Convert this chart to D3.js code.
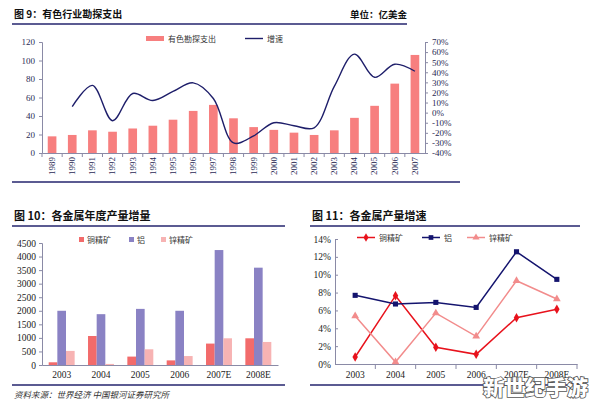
<!DOCTYPE html>
<html>
<head>
<meta charset="utf-8">
<script src="https://cdn.jsdelivr.net/npm/d3@7"></script>
<style>
  body { margin: 0; background: #fff; }
  svg text { font-family: "Liberation Serif", "Noto Sans CJK SC", serif; }
  .cjk { font-family: "Noto Sans CJK SC", sans-serif !important; }
</style>
</head>
<body>
<div class="chart"></div>
<script>
// fig 9 data
var years = ["1989","1990","1991","1992","1993","1994","1995","1996","1997","1998",
             "1999","2000","2001","2002","2003","2004","2005","2006","2007"];
var spend = [18, 19.5, 24.5, 23, 26.5, 29.5, 36, 45.5, 52, 37.5,
             28, 25, 22, 19.5, 24.5, 38, 51, 75, 106];
var growth = [null, 6, 27, -8, 19, 12, 21, 29.5, 14, -30,
              -23, -10, -13, -15, 26, 58, 35, 48, 41];
var leftTicks = [0, 20, 40, 60, 80, 100, 120];
var rightTicks = [-40, -30, -20, -10, 0, 10, 20, 30, 40, 50, 60, 70];

// fig 10 / 11 data
var cats = ["2003", "2004", "2005", "2006", "2007E", "2008E"];
var metals = ["铜精矿", "铝", "锌精矿"];
var copperAdd = [100, 1070, 310, 170, 790, 985];
var aluAdd = [2000, 1875, 2070, 2000, 4240, 3590];
var zincAdd = [520, 40, 580, 330, 985, 850];
var addTicks = [0, 500, 1000, 1500, 2000, 2500, 3000, 3500, 4000, 4500];
var copperGr = [0.78, 7.65, 1.87, 1.08, 5.19, 6.12];
var aluGr = [7.69, 6.72, 6.90, 6.34, 12.57, 9.48];
var zincGr = [5.37, 0.22, 5.70, 3.10, 9.33, 7.28];
var grTicks = [0, 2, 4, 6, 8, 10, 12, 14];

var navy = "#24246e", axisCol = "#8a8aa6", labCol = "#2a2a55";

var svg = d3.select(".chart").append("svg")
  .attr("width", 594).attr("height", 404);

function header(x0, x1, y, title, right) {
  svg.append("text").attr("class", "cjk")
    .attr("x", x0 + 2).attr("y", y)
    .style("font-size", title.size + "px").style("font-weight", "700")
    .attr("fill", "#111").text(title.text);
  if (right) {
    svg.append("text").attr("class", "cjk")
      .attr("x", x1).attr("y", y).attr("text-anchor", "end")
      .style("font-size", "9.5px").style("font-weight", "700")
      .attr("fill", "#111").text(right);
  }
  svg.append("line").attr("x1", x0).attr("x2", x1)
    .attr("y1", y + 6).attr("y2", y + 6)
    .attr("stroke", navy).attr("stroke-width", 1.6);
}

// ---------- Fig 9 ----------
header(12, 407, 18, {text: "图 9：有色行业勘探支出", size: 10}, "单位：亿美金");

var x1 = d3.scaleBand().domain(years).range([42, 425]).paddingInner(0.57).paddingOuter(0.285);
var y1 = d3.scaleLinear().domain([0, 120]).range([153, 42]);
var y1r = d3.scaleLinear().domain([-40, 70]).range([153, 42]);

svg.append("g").selectAll("rect").data(spend).enter().append("rect")
  .attr("x", function(d, i) { return x1(years[i]); })
  .attr("width", x1.bandwidth())
  .attr("y", function(d) { return y1(d); })
  .attr("height", function(d) { return y1(0) - y1(d); })
  .attr("fill", "#f77f7f");

var gL = svg.append("g").attr("transform", "translate(42,0)")
  .call(d3.axisLeft(y1).tickValues(leftTicks).tickSize(3).tickPadding(4));
var gR = svg.append("g").attr("transform", "translate(425,0)")
  .call(d3.axisRight(y1r).tickValues(rightTicks).tickSize(3).tickPadding(4)
    .tickFormat(function(d) { return d + "%"; }));
var gX = svg.append("g").attr("transform", "translate(0,153)")
  .call(d3.axisBottom(x1).tickSize(0).tickPadding(0));
gX.selectAll(".tick text")
  .attr("transform", "rotate(-90)")
  .attr("x", -4).attr("y", 0).attr("dy", "0.32em")
  .style("text-anchor", "end");
// boundary ticks
svg.append("g").selectAll("line").data(years).enter().append("line")
  .attr("x1", function(d) { return x1(d) - x1.step() * x1.paddingInner() / 2; })
  .attr("x2", function(d) { return x1(d) - x1.step() * x1.paddingInner() / 2; })
  .attr("y1", 153).attr("y2", 157).attr("stroke", axisCol);

[gL, gR, gX].forEach(function(g) {
  g.select(".domain").attr("stroke", axisCol);
  g.selectAll(".tick line").attr("stroke", axisCol);
  g.selectAll(".tick text").attr("fill", labCol).style("font-size", "9px");
});

var lineData = growth.map(function(v, i) { return {k: years[i], v: v}; })
  .filter(function(d) { return d.v !== null; });
svg.append("path").datum(lineData)
  .attr("fill", "none").attr("stroke", "#1e1e6a").attr("stroke-width", 1.4)
  .attr("d", d3.line()
    .x(function(d) { return x1(d.k) + x1.bandwidth() / 2; })
    .y(function(d) { return y1r(d.v); })
    .curve(d3.curveCatmullRom.alpha(0.5)));

// legend fig 9
svg.append("rect").attr("x", 146).attr("y", 36).attr("width", 18).attr("height", 5).attr("fill", "#f77f7f");
svg.append("text").attr("class", "cjk").attr("x", 168).attr("y", 42)
  .style("font-size", "8px").attr("fill", "#333").text("有色勘探支出");
svg.append("line").attr("x1", 245).attr("x2", 263).attr("y1", 38.5).attr("y2", 38.5)
  .attr("stroke", "#1e1e6a").attr("stroke-width", 1.4);
svg.append("text").attr("class", "cjk").attr("x", 267).attr("y", 42)
  .style("font-size", "8px").attr("fill", "#333").text("增速");

svg.append("line").attr("x1", 12).attr("x2", 460).attr("y1", 182).attr("y2", 182)
  .attr("stroke", navy).attr("stroke-width", 1.6);

// ---------- Fig 10 ----------
header(12, 285, 220, {text: "图 10：各金属年度产量增量", size: 11});

var x2 = d3.scaleBand().domain(cats).range([42, 278]).paddingInner(0.34).paddingOuter(0.17);
var x2in = d3.scaleBand().domain(metals).range([0, x2.bandwidth()]);
var y2 = d3.scaleLinear().domain([0, 4500]).range([365, 243]);
var barCols = ["#f26b6b", "#8a82c4", "#f7b3b3"];
var addSeries = [copperAdd, aluAdd, zincAdd];

addSeries.forEach(function(vals, s) {
  svg.append("g").selectAll("rect").data(vals).enter().append("rect")
    .attr("x", function(d, i) { return x2(cats[i]) + x2in(metals[s]); })
    .attr("width", x2in.bandwidth())
    .attr("y", function(d) { return y2(d); })
    .attr("height", function(d) { return y2(0) - y2(d); })
    .attr("fill", barCols[s]);
});

var g2L = svg.append("g").attr("transform", "translate(42,0)")
  .call(d3.axisLeft(y2).tickValues(addTicks).tickSize(3).tickPadding(3)
    .tickFormat(d3.format("d")));
var g2X = svg.append("g").attr("transform", "translate(0,365)")
  .call(d3.axisBottom(x2).tickSize(0).tickPadding(6));
[g2L, g2X].forEach(function(g) {
  g.select(".domain").attr("stroke", axisCol);
  g.selectAll(".tick line").attr("stroke", axisCol);
  g.selectAll(".tick text").attr("fill", "#222").style("font-size", "9.5px");
});

var leg2x = [79, 129, 161];
metals.forEach(function(m, s) {
  svg.append("rect").attr("x", leg2x[s]).attr("y", 237).attr("width", 5).attr("height", 5).attr("fill", barCols[s]);
  svg.append("text").attr("class", "cjk").attr("x", leg2x[s] + 8).attr("y", 243)
    .style("font-size", "8px").attr("fill", "#333").text(m);
});

svg.append("line").attr("x1", 12).attr("x2", 285).attr("y1", 385).attr("y2", 385)
  .attr("stroke", navy).attr("stroke-width", 1.6);
svg.append("text").attr("class", "cjk").attr("x", 14).attr("y", 398)
  .style("font-size", "8.5px").style("font-style", "italic").attr("fill", "#333")
  .text("资料来源：世界经济  中国银河证券研究所");

// ---------- Fig 11 ----------
header(310, 580, 220, {text: "图 11：各金属产量增速", size: 11});

var x3 = d3.scaleBand().domain(cats).range([335, 577]);
var y3 = d3.scaleLinear().domain([0, 14]).range([364, 239]);

var g3L = svg.append("g").attr("transform", "translate(335,0)")
  .call(d3.axisLeft(y3).tickValues(grTicks).tickSize(-3).tickPadding(4)
    .tickFormat(function(d) { return d + "%"; }));
var g3X = svg.append("g").attr("transform", "translate(0,364)")
  .call(d3.axisBottom(x3).tickSize(0).tickPadding(7));
svg.append("g").selectAll("line").data(cats).enter().append("line")
  .attr("x1", function(d) { return x3(d) + x3.step(); })
  .attr("x2", function(d) { return x3(d) + x3.step(); })
  .attr("y1", 364).attr("y2", 369).attr("stroke", axisCol);
[g3L, g3X].forEach(function(g) {
  g.select(".domain").attr("stroke", axisCol);
  g.selectAll(".tick line").attr("stroke", axisCol);
  g.selectAll(".tick text").attr("fill", "#222").style("font-size", "9.5px");
});

var lineCols = ["#e8121c", "#14146e", "#f28c8c"];
var markTypes = [d3.symbolDiamond, d3.symbolSquare, d3.symbolTriangle];
var grSeries = [copperGr, aluGr, zincGr];
var cx3 = function(i) { return x3(cats[i]) + x3.bandwidth() / 2; };

grSeries.forEach(function(vals, s) {
  svg.append("path").datum(vals)
    .attr("fill", "none").attr("stroke", lineCols[s]).attr("stroke-width", 1.5)
    .attr("d", d3.line().x(function(d, i) { return cx3(i); }).y(function(d) { return y3(d); }));
  svg.append("g").selectAll("path").data(vals).enter().append("path")
    .attr("transform", function(d, i) { return "translate(" + cx3(i) + "," + y3(d) + ")"; })
    .attr("d", d3.symbol().type(markTypes[s]).size(26))
    .attr("fill", lineCols[s]);
});

var leg3x = [357, 422, 467];
metals.forEach(function(m, s) {
  svg.append("line").attr("x1", leg3x[s]).attr("x2", leg3x[s] + 18)
    .attr("y1", 237.5).attr("y2", 237.5).attr("stroke", lineCols[s]).attr("stroke-width", 1.5);
  svg.append("path").attr("transform", "translate(" + (leg3x[s] + 9) + ",237.5)")
    .attr("d", d3.symbol().type(markTypes[s]).size(22)).attr("fill", lineCols[s]);
  svg.append("text").attr("class", "cjk").attr("x", leg3x[s] + 22).attr("y", 241)
    .style("font-size", "8px").attr("fill", "#333").text(m);
});

svg.append("line").attr("x1", 310).attr("x2", 580).attr("y1", 385).attr("y2", 385)
  .attr("stroke", navy).attr("stroke-width", 1.6);

// watermark
svg.append("text").attr("class", "cjk").attr("x", 588).attr("y", 395)
  .attr("text-anchor", "end")
  .style("font-size", "21px").style("font-weight", "900")
  .attr("fill", "#fff").attr("stroke", "#555").attr("stroke-width", 1.6)
  .style("paint-order", "stroke")
  .text("新世纪手游");
</script>
</body>
</html>
